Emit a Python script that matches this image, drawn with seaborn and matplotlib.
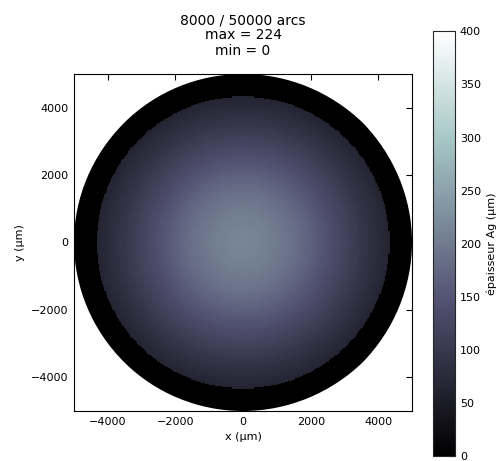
import numpy as np
import seaborn as sns
import matplotlib
matplotlib.use("Agg")
import matplotlib.pyplot as plt
from matplotlib.patches import Circle

# radial thickness profile of the Ag deposit
radius_um = [0, 500, 1000, 1500, 2000, 2500, 3000, 3500, 4000, 4300]
thickness_um = [214, 210, 200, 186, 166, 143, 120, 97, 77, 64]
disc_radius = 4330      # edge of the coated zone
wafer_radius = 5000     # outside this nothing is computed
peak_value = 224

arcs_done = 8000
arcs_total = 50000

xticks = [-4000, -2000, 0, 2000, 4000]
yticks = [-4000, -2000, 0, 2000, 4000]
cbar_ticks = [0, 50, 100, 150, 200, 250, 300, 350, 400]

n = 300
half = 5000
centers = np.linspace(-half, half, n + 1)
centers = (centers[:-1] + centers[1:]) / 2
xx, yy = np.meshgrid(centers, centers[::-1])
rr = np.hypot(xx, yy)

field = np.interp(rr, radius_um, thickness_um)
field[rr > disc_radius] = 0
field[n // 2 - 2:n // 2, n // 2:n // 2 + 1] = peak_value

sns.set_style("white")
plt.rcParams.update({"text.color": "black", "axes.labelcolor": "black",
                     "xtick.color": "black", "ytick.color": "black"})
fig = plt.figure(figsize=(4.98, 4.61), dpi=100)
ax = fig.add_axes([0.1486, 0.1085, 0.679, 0.731])
cax = fig.add_axes([0.8695, 0.010, 0.044, 0.922])

sns.heatmap(field, ax=ax, cbar_ax=cax, cmap="bone", vmin=0, vmax=400,
            xticklabels=False, yticklabels=False,
            cbar_kws={"ticks": cbar_ticks})

# nothing is computed outside the wafer: clip the mesh to the disc
mesh = ax.collections[0]
wafer = Circle((n / 2, n / 2), radius=wafer_radius / (2 * half) * n,
               transform=ax.transData)
mesh.set_clip_path(wafer)

def to_col(v):
    return (v + half) / (2 * half) * n

def to_row(v):
    return (half - v) / (2 * half) * n

ax.set_xticks([to_col(v) for v in xticks])
ax.set_xticklabels([f"{v}".replace("-", "\u2212") for v in xticks], fontsize=8)
ax.set_yticks([to_row(v) for v in yticks])
ax.set_yticklabels([f"{v}".replace("-", "\u2212") for v in yticks], fontsize=8, rotation=0)
ax.tick_params(direction="in", top=True, right=True, length=4, width=0.8, pad=4)
for s in ax.spines.values():
    s.set_visible(True)
    s.set_color("black")
    s.set_linewidth(0.8)
ax.set_aspect("auto")
ax.set_xlabel("x (\u00b5m)", fontsize=8)
ax.set_ylabel("y (\u00b5m)", fontsize=8)
ax.set_title(f"{arcs_done} / {arcs_total} arcs\nmax = {peak_value}\nmin = 0",
             fontsize=10, linespacing=1.1, pad=14)

cbar = mesh.colorbar
cbar.outline.set_visible(True)
cbar.outline.set_linewidth(0.8)
cbar.ax.tick_params(labelsize=8, direction="in", length=4, width=0.8)
cbar.set_label("\u00e9paisseur Ag (\u00b5m)", fontsize=8, labelpad=4)

fig.savefig("out.png", dpi=100)
